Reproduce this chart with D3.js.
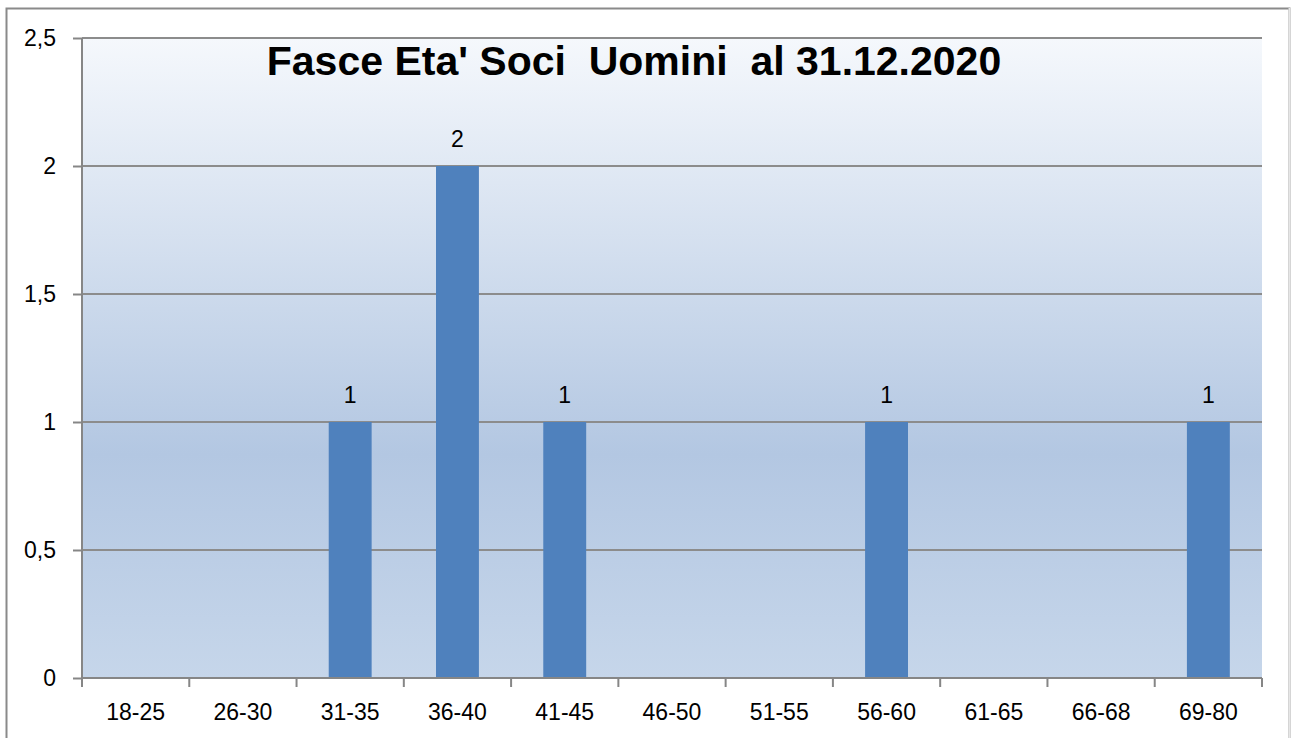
<!DOCTYPE html>
<html>
<head>
<meta charset="utf-8">
<script src="https://cdn.jsdelivr.net/npm/d3@7"></script>
<style>
  body { margin: 0; background: #fff; }
  svg text { font-family: "Liberation Sans", Arial, sans-serif; fill: #000; }
</style>
</head>
<body>
<svg id="chart" width="1291" height="738"></svg>
<script>
const TITLE = "Fasce Eta' Soci\u00a0 Uomini\u00a0 al 31.12.2020";
const categories = ["18-25", "26-30", "31-35", "36-40", "41-45", "46-50", "51-55", "56-60", "61-65", "66-68", "69-80"];
const values = [0, 0, 1, 2, 1, 0, 0, 1, 0, 0, 1];
const yTicks = [0, 0.5, 1, 1.5, 2, 2.5];

var svg = d3.select("#chart"),
    margin = {top: 38, right: 29, bottom: 60, left: 82},
    width = +svg.attr("width") - margin.left - margin.right,
    height = +svg.attr("height") - margin.top - margin.bottom;

var rows = categories.map((c, i) => ({cat: c, value: values[i]}));

// outer chart frame
svg.append("rect")
  .attr("x", 6.5).attr("y", 8.5)
  .attr("width", 1283).attr("height", 760)
  .attr("fill", "#fff")
  .attr("stroke", "#8a8a8a")
  .attr("stroke-width", 2);
svg.append("line")
  .attr("x1", 1289.5).attr("x2", 1289.5).attr("y1", 8).attr("y2", 738)
  .attr("stroke", "#e6e6e6").attr("stroke-width", 2);

var defs = svg.append("defs");
var grad = defs.append("linearGradient").attr("id", "bg").attr("x1", 0).attr("x2", 0).attr("y1", 0).attr("y2", 1);
grad.append("stop").attr("offset", "0%").attr("stop-color", "#f5f8fc");
grad.append("stop").attr("offset", "65%").attr("stop-color", "#b3c7e2");
grad.append("stop").attr("offset", "100%").attr("stop-color", "#c6d6ea");

var g = svg.append("g").attr("transform", "translate(" + margin.left + "," + margin.top + ")");

var x = d3.scaleBand().domain(categories).range([0, width]).paddingInner(0.6).paddingOuter(0.3);
var xb = d3.scaleBand().domain(categories).range([0, width]);
var y = d3.scaleLinear().domain([0, 2.5]).range([height, 0]);

g.append("rect").attr("width", width).attr("height", height).attr("fill", "url(#bg)");

// gridlines
g.selectAll(".grid").data(yTicks.slice(1)).enter().append("line")
  .attr("x1", 0).attr("x2", width)
  .attr("y1", d => y(d)).attr("y2", d => y(d))
  .attr("stroke", "#8c8c8c").attr("stroke-width", 2);

// bars
g.selectAll(".bar").data(rows).enter().append("rect")
  .attr("x", d => x(d.cat))
  .attr("width", x.bandwidth())
  .attr("y", d => y(d.value))
  .attr("height", d => height - y(d.value))
  .attr("fill", "#4f81bd");

// value labels
g.selectAll(".lbl").data(rows.filter(d => d.value > 0)).enter().append("text")
  .attr("x", d => x(d.cat) + x.bandwidth() / 2)
  .attr("y", d => y(d.value) - 19)
  .attr("text-anchor", "middle")
  .style("font-size", "23px")
  .text(d => d.value);

// y axis
var yAxis = d3.axisLeft(y).tickValues(yTicks).tickSize(9).tickPadding(17)
  .tickFormat(d => String(d).replace(".", ","));
var ya = g.append("g").call(yAxis);
ya.selectAll("line, path").attr("stroke", "#868686").attr("stroke-width", 2);
ya.select(".domain").attr("d", "M0," + height + "V0");
ya.selectAll("text").style("font-size", "23px").style("font-family", "Liberation Sans, Arial, sans-serif").attr("fill", "#000");

// x axis with ticks on category boundaries
var xa = g.append("g").attr("transform", "translate(0," + height + ")");
xa.append("line").attr("x1", 0).attr("x2", width).attr("stroke", "#868686").attr("stroke-width", 2);
xa.selectAll(".tk").data(categories.concat(["end"])).enter().append("line")
  .attr("x1", (d, i) => i < categories.length ? xb(d) : width)
  .attr("x2", (d, i) => i < categories.length ? xb(d) : width)
  .attr("y1", 0).attr("y2", 9)
  .attr("stroke", "#868686").attr("stroke-width", 2);
xa.selectAll(".xl").data(categories).enter().append("text")
  .attr("x", d => xb(d) + xb.bandwidth() / 2)
  .attr("y", 42)
  .attr("text-anchor", "middle")
  .style("font-size", "23px")
  .text(d => d);

// title
svg.append("text")
  .attr("x", 634).attr("y", 75)
  .attr("text-anchor", "middle")
  .style("font-size", "41px")
  .style("font-weight", "bold")
  .text(TITLE);
</script>
</body>
</html>
